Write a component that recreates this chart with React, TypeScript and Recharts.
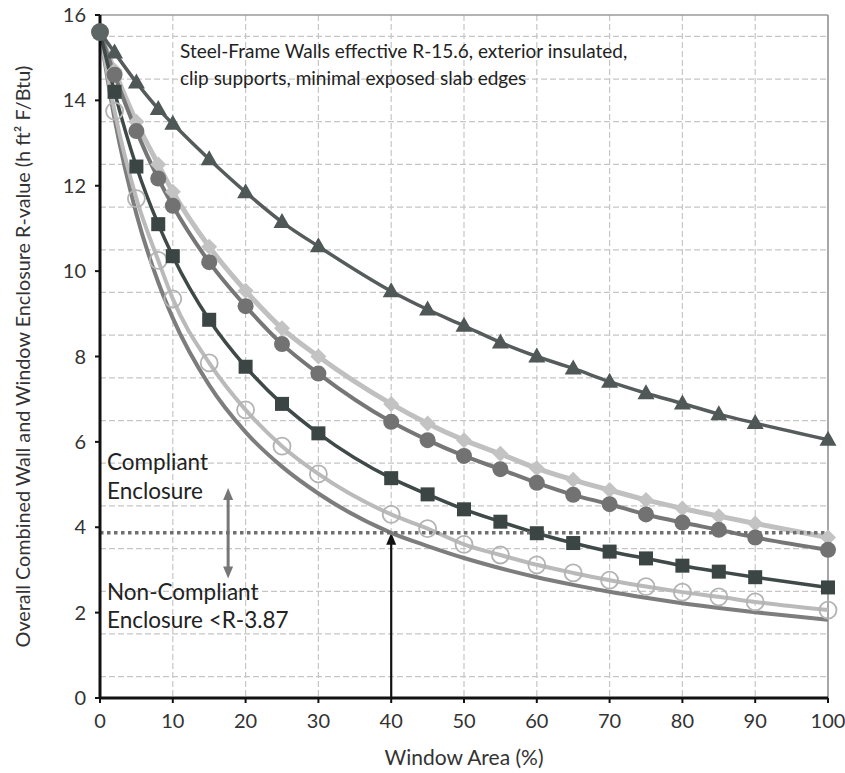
import React from "react";
import {
  LineChart,
  Line,
  XAxis,
  YAxis,
  CartesianGrid,
  ReferenceLine,
  Label,
} from "recharts";

// window area (%) where the curves were sampled
const windowArea = [0, 2, 5, 8, 10, 15, 20, 25, 30, 40, 45, 50, 55, 60, 65, 70, 75, 80, 85, 90, 100];

// overall R-value per curve
const triangleVals = [15.6, 15.12, 14.42, 13.8, 13.45, 12.62, 11.85, 11.15, 10.58, 9.53, 9.1, 8.72, 8.33, 8.0, 7.72, 7.41, 7.14, 6.9, 6.65, 6.44, 6.05];
const diamondVals = [15.6, 14.7, 13.5, 12.5, 11.86, 10.57, 9.54, 8.66, 8.0, 6.89, 6.43, 6.04, 5.72, 5.38, 5.11, 4.87, 4.64, 4.44, 4.26, 4.09, 3.76];
const circleVals = [15.6, 14.6, 13.28, 12.17, 11.53, 10.21, 9.18, 8.29, 7.6, 6.47, 6.04, 5.67, 5.36, 5.04, 4.76, 4.54, 4.3, 4.11, 3.94, 3.76, 3.47];
const squareVals = [15.6, 14.2, 12.45, 11.1, 10.35, 8.86, 7.76, 6.89, 6.2, 5.15, 4.77, 4.42, 4.13, 3.86, 3.63, 3.43, 3.27, 3.1, 2.96, 2.83, 2.59];
const openCircleVals = [15.6, 13.75, 11.7, 10.25, 9.35, 7.85, 6.75, 5.9, 5.25, 4.3, 3.97, 3.6, 3.35, 3.12, 2.93, 2.76, 2.61, 2.48, 2.37, 2.25, 2.06];
const plainVals = [15.6, 13.57, 11.34, 9.74, 8.9, 7.33, 6.23, 5.42, 4.79, 3.87, 3.56, 3.28, 3.04, 2.83, 2.65, 2.49, 2.35, 2.22, 2.11, 2.01, 1.83];

const xTicks = [0, 10, 20, 30, 40, 50, 60, 70, 80, 90, 100];
const yTicks = [0, 2, 4, 6, 8, 10, 12, 14, 16];
const gridY = [0.5, 1, 1.5, 2, 2.5, 3, 3.5, 4, 4.5, 5, 5.5, 6, 6.5, 7, 7.5, 8, 8.5, 9, 9.5, 10, 10.5, 11, 11.5, 12, 12.5, 13, 13.5, 14, 14.5, 15, 15.5];
const gridX = [10, 20, 30, 40, 50, 60, 70, 80, 90];

const compliantLimit = 3.87;

const rows = windowArea.map((x, i) => ({
  x,
  tri: triangleVals[i],
  dia: diamondVals[i],
  cir: circleVals[i],
  sq: squareVals[i],
  open: openCircleVals[i],
  plain: plainVals[i],
}));

const font = "Lato, 'Open Sans', sans-serif";

const triDot = (p: any) => {
  const { cx, cy, index } = p;
  if (index === 0) return <g key={`t${index}`} />;
  return (
    <polygon
      key={`t${index}`}
      points={`${cx},${cy - 9} ${cx - 8.5},${cy + 6} ${cx + 8.5},${cy + 6}`}
      fill="#4f5757"
    />
  );
};
const diaDot = (p: any) => {
  const { cx, cy, index } = p;
  if (index === 0) return <g key={`d${index}`} />;
  return (
    <polygon
      key={`d${index}`}
      points={`${cx},${cy - 8} ${cx + 8},${cy} ${cx},${cy + 8} ${cx - 8},${cy}`}
      fill="#c3c3c3"
    />
  );
};
const cirDot = (p: any) => {
  const { cx, cy, index } = p;
  return <circle key={`c${index}`} cx={cx} cy={cy} r={index === 0 ? 9 : 8} fill={index === 0 ? "#5d6565" : "#727272"} />;
};
const sqDot = (p: any) => {
  const { cx, cy, index } = p;
  if (index === 0) return <g key={`s${index}`} />;
  return <rect key={`s${index}`} x={cx - 7} y={cy - 7} width={14} height={14} fill="#3a4544" />;
};
const openDot = (p: any) => {
  const { cx, cy, index } = p;
  if (index === 0) return <g key={`o${index}`} />;
  return <circle key={`o${index}`} cx={cx} cy={cy} r={8.5} fill="none" stroke="#b3b3b3" strokeWidth={1.8} />;
};

const arrow = (color: string, width: number, both: boolean) => (p: any) => {
  const { x1, y1, x2, y2 } = p;
  const len = Math.hypot(x2 - x1, y2 - y1) || 1;
  const ux = (x2 - x1) / len;
  const uy = (y2 - y1) / len;
  const head = 12;
  const hw = 5;
  const headAt = (tx: number, ty: number, dx: number, dy: number) => {
    const bx = tx - dx * head;
    const by = ty - dy * head;
    return `${tx},${ty} ${bx - dy * hw},${by + dx * hw} ${bx + dy * hw},${by - dx * hw}`;
  };
  const sx = both ? x1 + ux * (head - 2) : x1;
  const sy = both ? y1 + uy * (head - 2) : y1;
  return (
    <g>
      <line x1={sx} y1={sy} x2={x2 - ux * (head - 2)} y2={y2 - uy * (head - 2)} stroke={color} strokeWidth={width} />
      <polygon points={headAt(x2, y2, ux, uy)} fill={color} />
      {both && <polygon points={headAt(x1, y1, -ux, -uy)} fill={color} />}
    </g>
  );
};

export default function App() {
  return (
    <div style={{ position: "absolute", left: 0, top: 0, width: 845, height: 773, background: "#fff" }}>
      <LineChart width={845} height={773} data={rows} margin={{ top: 15, right: 17, bottom: 0, left: 0 }}>
        <CartesianGrid
          horizontalValues={gridY}
          verticalValues={gridX}
          stroke="#c6c6c6"
          strokeDasharray="6 3"
          strokeWidth={1.2}
        />
        <XAxis
          type="number"
          dataKey="x"
          domain={[0, 100]}
          ticks={xTicks}
          height={75}
          axisLine={{ stroke: "#111", strokeWidth: 3 }}
          tickLine={{ stroke: "#111", strokeWidth: 2 }}
          tickSize={5}
          tickMargin={11}
          tick={{ fill: "#333", fontSize: 20, fontFamily: font }}
        >
          <Label value="Window Area (%)" position="insideBottom" offset={8} style={{ fill: "#333", fontSize: 21, fontFamily: font }} />
        </XAxis>
        <YAxis
          type="number"
          domain={[0, 16]}
          ticks={yTicks}
          width={100}
          axisLine={{ stroke: "#111", strokeWidth: 3 }}
          tickLine={{ stroke: "#111", strokeWidth: 2 }}
          tickSize={5}
          tickMargin={9}
          tick={{ fill: "#333", fontSize: 20, fontFamily: font }}
        >
          <Label
            content={(props: any) => {
              const vb = props.viewBox;
              const cx = vb.x + 22;
              const cy = vb.y + vb.height / 2;
              return (
                <text
                  x={cx}
                  y={cy}
                  transform={`rotate(-90 ${cx} ${cy})`}
                  textAnchor="middle"
                  dominantBaseline="central"
                  fill="#333"
                  fontSize={19.8}
                  fontFamily={font}
                >
                  Overall Combined Wall and Window Enclosure R-value (h ft² F/Btu)
                </text>
              );
            }}
          />
        </YAxis>
        <ReferenceLine x={100} stroke="#8a8a8a" strokeWidth={1.5} />
        <ReferenceLine y={16} stroke="#9a9a9a" strokeWidth={1.5} />
        <ReferenceLine
          segment={[{ x: 40, y: 0 }, { x: 40, y: compliantLimit }]}
          shape={arrow("#111", 2.2, false)}
        />
        <ReferenceLine
          segment={[{ x: 17.6, y: 2.8 }, { x: 17.6, y: 4.92 }]}
          shape={arrow("#777", 3, true)}
        />
        <Line dataKey="plain" type="monotone" stroke="#7d7d7d" strokeWidth={4} dot={false} activeDot={false} isAnimationActive={false} />
        <Line dataKey="open" type="monotone" stroke="#bababa" strokeWidth={4} dot={openDot} activeDot={false} isAnimationActive={false} />
        <Line dataKey="dia" type="monotone" stroke="#c0c0c0" strokeWidth={5} dot={diaDot} activeDot={false} isAnimationActive={false} />
        <Line dataKey="cir" type="monotone" stroke="#767676" strokeWidth={4} dot={cirDot} activeDot={false} isAnimationActive={false} />
        <Line dataKey="sq" type="monotone" stroke="#3e4948" strokeWidth={3.5} dot={sqDot} activeDot={false} isAnimationActive={false} />
        <Line dataKey="tri" type="monotone" stroke="#565c5c" strokeWidth={3.5} dot={triDot} activeDot={false} isAnimationActive={false} />
        <ReferenceLine y={compliantLimit} stroke="#6f6f6f" strokeWidth={3.5} strokeDasharray="3.5 3.5" />
      </LineChart>
      <svg
        width={845}
        height={773}
        style={{ position: "absolute", left: 0, top: 0, pointerEvents: "none" }}
        fontFamily={font}
        fill="#222"
      >
        <g fontSize={19}>
          <text x={180} y={58}>Steel-Frame Walls effective R-15.6, exterior insulated,</text>
          <text x={180} y={85}>clip supports, minimal exposed slab edges</text>
        </g>
        <g fontSize={22.5}>
          <text x={107} y={470}>Compliant</text>
          <text x={107} y={499}>Enclosure</text>
          <text x={107} y={600}>Non-Compliant</text>
          <text x={107} y={628}>Enclosure &lt;R-3.87</text>
        </g>
      </svg>
    </div>
  );
}
